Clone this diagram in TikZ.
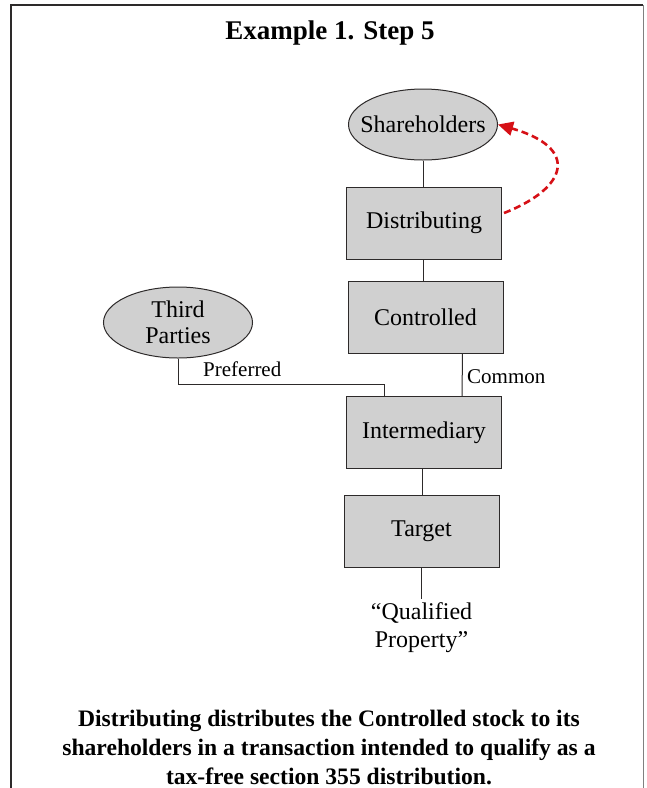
\documentclass[tikz,border=0pt]{standalone}
\usepackage{fontspec}
\setmainfont{Liberation Serif}
\usetikzlibrary{shapes.geometric,arrows.meta}
\definecolor{boxgray}{RGB}{208,208,208}
\definecolor{edgegray}{RGB}{45,42,42}
\definecolor{arrowred}{RGB}{214,16,22}
\begin{document}
\begin{tikzpicture}[x=1pt,y=-1pt,
    entity/.style={draw=edgegray,fill=boxgray,line width=1pt,minimum width=155pt,minimum height=72pt,inner sep=0pt,font=\fontsize{24}{27}\selectfont},
    owner/.style={draw=edgegray,fill=boxgray,line width=1pt,ellipse,minimum width=149pt,minimum height=71pt,inner xsep=-10pt,inner ysep=0pt,align=center,font=\fontsize{24}{27}\selectfont},
    tie/.style={draw=edgegray,line width=1pt},
    stocklabel/.style={font=\fontsize{21}{24}\selectfont,inner sep=0pt}]
      \useasboundingbox (0,0) rectangle (647,788);
      % Frame
      \draw[edgegray,line width=2.5pt] (11,788) -- (11,5) -- (643,5);
      \draw[gray,line width=1pt] (643,5) -- (643,788);
      % Title (bold)
      \node[font=\fontsize{27}{30}\selectfont\bfseries] (title) at (330,33) {Example 1. Step 5};
      % Entities
      \node[owner] (share) at (423,124.5) {Shareholders};
      \node[entity] (dist) at (424,223) {Distributing};
      \node[entity] (ctrl) at (425.5,317) {Controlled};
      \node[owner] (third) at (178,322.5) {Third\\[-1pt]Parties};
      \node[entity] (inter) at (424,432.5) {Intermediary};
      \node[entity] (target) at (421.5,531) {Target};
      \node[align=center,font=\fontsize{24}{28}\selectfont] (qual) at (421.5,628) {``Qualified\\Property''};
      % Ownership lines
      \draw[tie] (share.south) -- (share.south |- dist.north);
      \draw[tie] ([xshift=-1pt]dist.south) -- ([xshift=-1pt]dist.south |- ctrl.north);
      \draw[tie] ([xshift=1pt]target.north) -- ([xshift=1pt]target.north |- inter.south);
      \draw[tie] (target.south) -- (qual.north);
      \draw[tie] ([xshift=37pt]ctrl.south) -- ([xshift=38pt]inter.north);
      \draw[tie] (third.south) -- ++(0,26) -| ([xshift=-40pt]inter.north);
      \node[stocklabel,anchor=west] (pref) at (203,369) {Preferred};
      \node[stocklabel,anchor=west] (comm) at (467,377) {Common};
      % Distribution of Controlled stock
      \draw[arrowred,line width=2.6pt,dash pattern=on 7pt off 4pt,-{Triangle[length=15pt,width=14pt]}]
        (dist.east) ++(2,-10) .. controls (568,188) and (580,148) .. (share.east);
      % Caption (bold)
      \node[align=center,font=\fontsize{23.6}{29}\selectfont\bfseries] (caption) at (329,747)
        {Distributing distributes the Controlled stock to its\\shareholders in a transaction intended to qualify as a\\tax-free section 355 distribution.};
\end{tikzpicture}
\end{document}
